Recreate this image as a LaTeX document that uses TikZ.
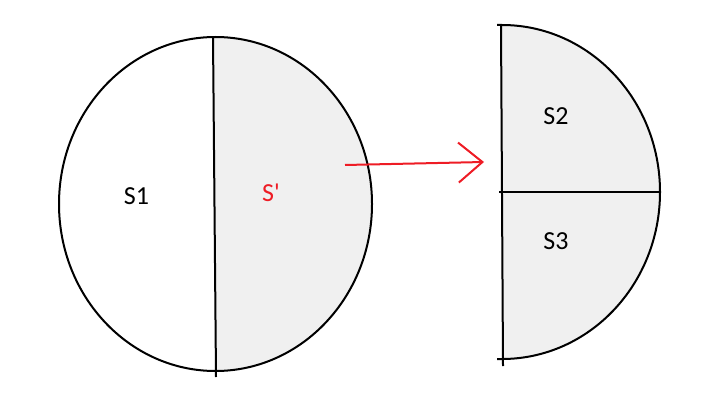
\documentclass[tikz,border=0pt]{standalone}
\usepackage{fontspec}
\setmainfont{Carlito}
\usetikzlibrary{arrows.meta}
\definecolor{lightfill}{HTML}{F0F0F0}
\definecolor{arrowred}{HTML}{EE1C25}
\begin{document}
\begin{tikzpicture}[x=1pt,y=1pt,line width=2pt,
    lbl/.style={font=\fontsize{26}{30}\selectfont}]
    \useasboundingbox (0,0) rectangle (703,402);

        % whole set
        \begin{scope}
            \clip (215.5,198) ellipse [x radius=156.5,y radius=167];
            \fill[lightfill] (213,402) -- (216,0) -- (400,0) -- (400,402) -- cycle;
        \end{scope}
        \draw (215.5,198) ellipse [x radius=156.5,y radius=167];
        \draw (213,365) -- (216,25);

        % split half
        \fill[lightfill] (502,377) arc [start angle=90,end angle=-90,x radius=158,y radius=167] -- cycle;
        \draw (497,377) -- (502,377) arc [start angle=90,end angle=-90,x radius=158,y radius=167] -- (497,43);
        \draw (501,377) -- (503,36);
        \draw (499,210) -- (660,210);

        % arrow
        \coordinate (from) at (345,237);
        \coordinate (to) at (484,240);
        \draw[arrowred,-{Straight Barb[length=24pt,width=40pt]}] (from) -- (to);

        \node[lbl] (s1) at (136.5,206) {S1};
        \node[lbl,text=arrowred] (sp) at (271,209) {S\textquotesingle};
        \node[lbl] (s2) at (556,286) {S2};
        \node[lbl] (s3) at (556,160.5) {S3};
    \end{tikzpicture}
\end{document}
